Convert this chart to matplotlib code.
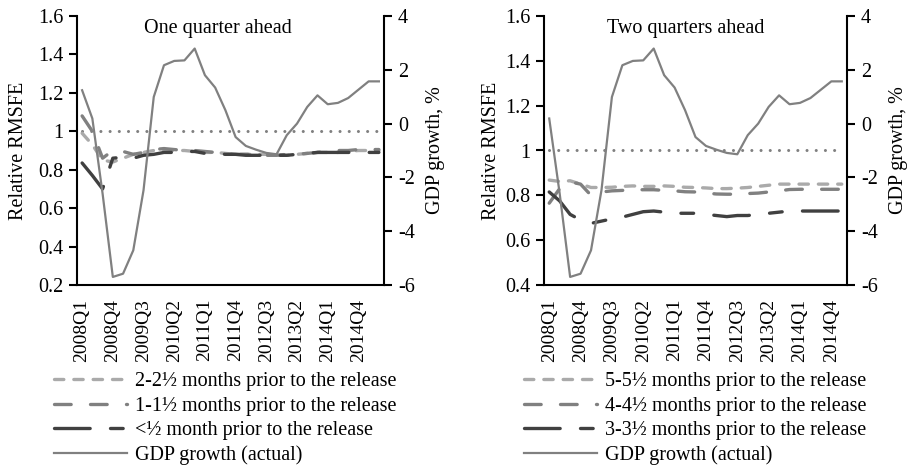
import matplotlib
matplotlib.use("Agg")
import matplotlib.pyplot as plt

plt.rcParams['font.family'] = ['Liberation Serif', 'DejaVu Serif']
plt.rcParams['axes.unicode_minus'] = False

quarters = ['2008Q1', '2008Q2', '2008Q3', '2008Q4', '2009Q1', '2009Q2', '2009Q3', '2009Q4',
            '2010Q1', '2010Q2', '2010Q3', '2010Q4', '2011Q1', '2011Q2', '2011Q3', '2011Q4',
            '2012Q1', '2012Q2', '2012Q3', '2012Q4', '2013Q1', '2013Q2', '2013Q3', '2013Q4',
            '2014Q1', '2014Q2', '2014Q3', '2014Q4', '2015Q1', '2015Q2']

# One quarter ahead
gdp_1q = [1.24, 0.19, -2.6, -5.7, -5.58, -4.71, -2.48, 0.99, 2.17, 2.33, 2.35, 2.79, 1.80,
          1.34, 0.50, -0.50, -0.83, -0.97, -1.09, -1.14, -0.43, 0.0, 0.62, 1.05, 0.72, 0.77,
          0.95, 1.26, 1.57, 1.57]
m2_1q = [0.99, 0.93, 0.85, 0.84, 0.86, 0.88, 0.89, 0.90, 0.905, 0.90, 0.90, 0.895, 0.89,
         0.89, 0.885, 0.88, 0.88, 0.88, 0.88, 0.875, 0.875, 0.88, 0.885, 0.89, 0.89, 0.89,
         0.895, 0.90, 0.90, 0.90]
m1_1q = [1.08, 1.00, 0.86, 0.90, 0.895, 0.88, 0.89, 0.905, 0.91, 0.905, 0.90, 0.90, 0.895,
         0.89, 0.885, 0.88, 0.88, 0.88, 0.875, 0.875, 0.88, 0.88, 0.885, 0.89, 0.895, 0.90,
         0.90, 0.905, 0.905, 0.905]
m0_1q = [0.835, 0.77, 0.70, 0.86, 0.865, 0.86, 0.875, 0.88, 0.89, 0.89, 0.895, 0.895, 0.885,
         0.885, 0.88, 0.88, 0.875, 0.875, 0.875, 0.875, 0.875, 0.88, 0.885, 0.89, 0.89, 0.89,
         0.89, 0.89, 0.89, 0.89]

# Two quarters ahead
gdp_2q = [0.19, -2.6, -5.7, -5.58, -4.71, -2.48, 0.99, 2.17, 2.33, 2.35, 2.79, 1.80, 1.34,
          0.50, -0.50, -0.83, -0.97, -1.09, -1.14, -0.43, 0.0, 0.62, 1.05, 0.72, 0.77, 0.95,
          1.26, 1.57, 1.57]
m5_2q = [0.868, 0.862, 0.865, 0.85, 0.835, 0.835, 0.836, 0.84, 0.842, 0.84, 0.84, 0.842,
         0.84, 0.836, 0.835, 0.833, 0.83, 0.83, 0.832, 0.835, 0.84, 0.845, 0.85, 0.85, 0.85,
         0.85, 0.85, 0.85, 0.85]
m4_2q = [0.765, 0.83, 0.86, 0.85, 0.80, 0.815, 0.82, 0.822, 0.824, 0.825, 0.825, 0.822,
         0.82, 0.816, 0.815, 0.81, 0.806, 0.805, 0.805, 0.808, 0.81, 0.815, 0.82, 0.826,
         0.827, 0.827, 0.827, 0.827, 0.827]
m3_2q = [0.815, 0.775, 0.715, 0.69, 0.675, 0.685, 0.695, 0.703, 0.715, 0.727, 0.73, 0.725,
         0.72, 0.72, 0.72, 0.715, 0.71, 0.705, 0.71, 0.71, 0.715, 0.72, 0.725, 0.73, 0.73,
         0.73, 0.73, 0.73, 0.73]

titles = ['One quarter ahead', 'Two quarters ahead']
labels_1q = ['2-2½ months prior to the release', '1-1½ months prior to the release',
             '<½ month prior to the release', 'GDP growth (actual)']
labels_2q = ['5-5½ months prior to the release', '4-4½ months prior to the release',
             '3-3½ months prior to the release', 'GDP growth (actual)']

C_LIGHT = '#aaaaaa'
C_MID = '#808080'
C_DARK = '#404040'
C_GDP = '#808080'
LW = 2.4
FS = 14.5

fig = plt.figure(figsize=(9.08, 4.65), dpi=100)
W, H = 908, 465


def box(l, r, t, b):
    return [l / W, 1 - b / H, (r - l) / W, (b - t) / H]


panels = [
    dict(rect=box(77, 384, 16, 285), ylim=(0.2, 1.6), yt=[0.2, 0.4, 0.6, 0.8, 1.0, 1.2, 1.4, 1.6],
         series=[m2_1q, m1_1q, m0_1q], gdp=gdp_1q, labels=labels_1q, title=titles[0],
         n=30, leg=(54, 372), tx=218, lp=(7, 8)),
    dict(rect=box(544, 847, 16, 285), ylim=(0.4, 1.6), yt=[0.4, 0.6, 0.8, 1.0, 1.2, 1.4, 1.6],
         series=[m5_2q, m4_2q, m3_2q], gdp=gdp_2q, labels=labels_2q, title=titles[1],
         n=29, leg=(524, 372), tx=686, lp=(3, 8)),
]

styles = [
    dict(color=C_LIGHT, dashes=(2.8, 3.0)),
    dict(color=C_MID, dashes=(5.0, 5.8)),
    dict(color=C_DARK, dashes=(10.7, 6.1, 3.8, 6.1)),
]

for p in panels:
    ax = fig.add_axes(p['rect'])
    ax2 = ax.twinx()
    n = p['n']
    xs = list(range(len(p['series'][0])))
    handles = []
    ax.plot(range(n), [1.0] * n, color=C_MID, lw=2.2, dashes=(0.01, 3.0),
            dash_capstyle='round', zorder=2)
    for s, st in zip(p['series'], styles):
        ln, = ax.plot(xs, s, color=st['color'], lw=LW, dashes=st['dashes'],
                      dash_capstyle='round', zorder=3)
        handles.append(ln)
    lg, = ax2.plot(range(len(p['gdp'])), p['gdp'], color=C_GDP, lw=1.6, zorder=4)
    handles.append(lg)

    ax.set_xlim(-0.5, n - 0.5)
    ax.set_ylim(*p['ylim'])
    ax.set_yticks(p['yt'])
    ax.set_yticklabels([('%g' % v) for v in p['yt']])
    ax2.set_ylim(-6, 4)
    ax2.set_yticks([-6, -4, -2, 0, 2, 4])
    ax2.set_yticklabels(['-6', '-4', '-2', '0', '2', '4'])
    ax.set_xticks(range(0, 28, 3))
    ax.set_xticklabels(quarters[0:28:3], rotation=90)
    ax.tick_params(axis='x', length=0, pad=10, labelsize=FS - 0.5)
    ax.tick_params(axis='y', direction='out', length=6, width=1.5, labelsize=FS, pad=4)
    ax2.tick_params(axis='y', direction='out', length=6, width=1.5, labelsize=FS, pad=4)
    for a in (ax, ax2):
        a.spines['top'].set_visible(False)
        for sp in ('left', 'right', 'bottom'):
            a.spines[sp].set_linewidth(1.5)
    ax.spines['right'].set_visible(False)
    ax2.spines['left'].set_visible(False)
    ax2.spines['bottom'].set_visible(False)
    ax.set_ylabel('Relative RMSFE', fontsize=FS, labelpad=p['lp'][0])
    ax2.set_ylabel('GDP growth, %', fontsize=FS, labelpad=p['lp'][1])
    fig.text(p['tx'] / W, 1 - 29 / H, p['title'], ha='center', va='center', fontsize=FS)
    lx, ly = p['leg']
    fig.legend(handles, p['labels'], loc='upper left',
               bbox_to_anchor=(lx / W, 1 - ly / H), frameon=False, fontsize=FS,
               handlelength=3.6, handletextpad=0.4, labelspacing=0.27,
               borderpad=0, borderaxespad=0)

fig.savefig('out.png', dpi=100)
